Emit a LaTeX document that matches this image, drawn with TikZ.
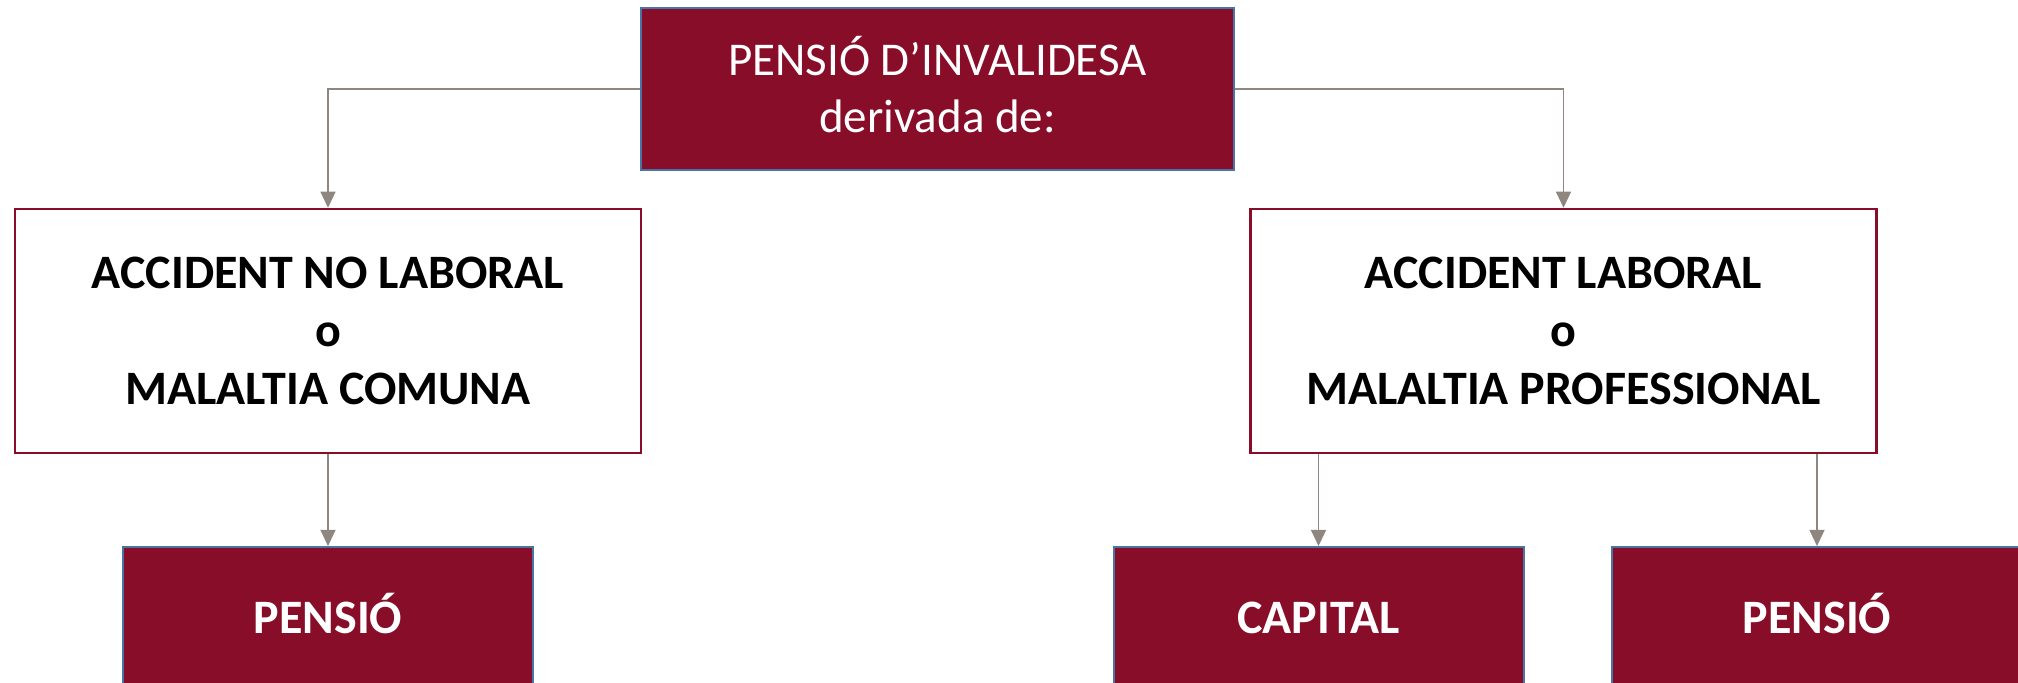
\documentclass[tikz,border=0pt]{standalone}
\usepackage{fontspec}
\setmainfont{Carlito}
\usetikzlibrary{arrows.meta}
\definecolor{wine}{RGB}{135,13,40}
\definecolor{edgeblue}{RGB}{72,117,163}
\definecolor{conngray}{RGB}{142,134,127}
\tikzset{
  darkbox/.style={draw=edgeblue, line width=1pt, fill=wine, text=white, inner sep=0pt, align=center},
  whitebox/.style={draw=wine, line width=1.25pt, fill=white, text=black, inner sep=0pt, align=center,
    minimum width=313pt, minimum height=122pt,
    font=\bfseries\fontsize{24}{29}\selectfont},
  leafbox/.style={darkbox, minimum width=205pt, minimum height=71pt,
    font=\bfseries\fontsize{24}{29}\selectfont, text height=15pt, text depth=0pt},
  conn/.style={draw=conngray, line width=0.6pt, -{Triangle[length=8pt,width=7.5pt]}}
}
\begin{document}
\begin{tikzpicture}[x=0.5pt,y=-0.5pt]
\useasboundingbox (0,0) rectangle (2018,683);
\clip (0,0) rectangle (2018,683);
\node[darkbox, minimum width=296.5pt, minimum height=81pt,
  font=\fontsize{23.5}{28.5}\selectfont]
  (top) at (937.5,89) {\smash{PENSIÓ D’INVALIDESA}\vphantom{PENSI}\\derivada de:};
\node[whitebox] (lb) at (328,331) {ACCIDENT NO LABORAL\\o\\MALALTIA COMUNA};
\node[whitebox] (rb) at (1563.5,331) {ACCIDENT LABORAL\\o\\MALALTIA PROFESSIONAL};
\node[leafbox] (pl) at (328,618) {PENSIÓ};
\node[leafbox] (cap) at (1318.5,618) {CAPITAL};
\node[leafbox] (pr) at (1817,618) {PENSIÓ};
\draw[conn] (top.west) -| (lb.north);
\draw[conn] (top.east) -| (rb.north);
\draw[conn] (lb.south) -- (pl.north);
\draw[conn] (cap.north |- rb.south) -- (cap.north);
\draw[conn] (pr.north |- rb.south) -- (pr.north);
\end{tikzpicture}
\end{document}
